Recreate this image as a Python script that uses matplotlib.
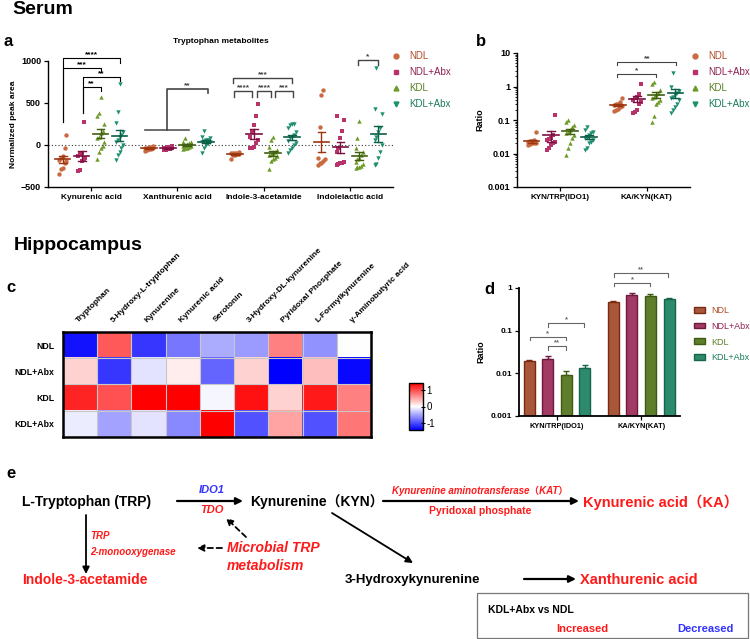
import numpy as np
import matplotlib
matplotlib.use('Agg')
import matplotlib.pyplot as plt
from matplotlib.lines import Line2D
from matplotlib.patches import Patch, Rectangle

plt.rcParams['font.family'] = ['Liberation Sans', 'Noto Sans CJK SC', 'DejaVu Sans']
plt.rcParams['axes.linewidth'] = 1.0

# ---- data ----
groups = ['NDL', 'NDL+Abx', 'KDL', 'KDL+Abx']
a_metabolites = ['Kynurenic acid', 'Xanthurenic acid', 'Indole-3-acetamide', 'Indolelactic acid']

# normalized peak area, one list per group (NDL, NDL+Abx, KDL, KDL+Abx)
kyna = [[120, -30, -130, -160, -175, -190, -215, -275, -290, -340],
        [275, -95, -110, -130, -150, -175, -195, -300, -305],
        [570, 380, 340, 250, 170, 140, 100, 80, 30, -10, -40, -80, -170],
        [730, 390, 260, 150, 120, 90, 60, 30, 0, -30, -80, -120, -175]]
xana = [[-10, -20, -30, -35, -40, -45, -50, -60, -70, -25],
        [-15, -25, -30, -35, -40, -45, -50, -55, -60, -20],
        [80, 40, 20, 0, -10, -20, -30, -40, -50, 10, -15, 30],
        [170, 100, 80, 60, 50, 40, 30, 20, 0, -30, -90, 60]]
i3a = [[-85, -90, -95, -100, -100, -105, -110, -115, -120, -170],
       [490, 350, 240, 150, 100, 60, 20, -20, -30, -40],
       [100, 60, -20, -60, -80, -100, -110, -120, -130, -150, -170, -190, -290],
       [250, 250, 240, 200, 150, 120, 100, 80, 50, 20, 0, -30, -60, -100]]
ila = [[660, 600, 220, -150, -170, -190, -210, -220, -240],
       [350, 300, 170, 80, -40, -80, -200, -210, -220, -230, -240],
       [290, 80, -40, -80, -120, -150, -170, -200, -230, -250, -260, -260, -270],
       [920, 430, 370, 200, 150, 100, 60, 0, -80, -150, -230, -240]]

b_ratios = ['KYN/TRP(IDO1)', 'KA/KYN(KAT)']
ido_ratio = [[0.045, 0.025, 0.023, 0.022, 0.021, 0.02, 0.019, 0.018, 0.024, 0.02],
             [0.14, 0.035, 0.03, 0.025, 0.022, 0.02, 0.018, 0.015, 0.013, 0.028],
             [0.1, 0.085, 0.07, 0.05, 0.045, 0.04, 0.035, 0.03, 0.02, 0.015, 0.009, 0.06],
             [0.06, 0.05, 0.04, 0.035, 0.03, 0.03, 0.025, 0.022, 0.02, 0.015, 0.013, 0.045]]
kat_ratio = [[0.45, 0.35, 0.3, 0.28, 0.25, 0.22, 0.2, 0.19, 0.3, 0.27],
             [1.15, 0.6, 0.5, 0.45, 0.4, 0.35, 0.3, 0.2, 0.17, 0.16],
             [1.4, 1.2, 0.8, 0.65, 0.55, 0.5, 0.45, 0.4, 0.35, 0.3, 0.13, 0.085],
             [2.5, 0.95, 0.75, 0.65, 0.55, 0.5, 0.45, 0.4, 0.3, 0.25, 0.2, 0.16]]

hm_rows = ['NDL', 'NDL+Abx', 'KDL', 'KDL+Abx']
hm_cols = ['Tryptophan', '5-Hydroxy-L-tryptophan', 'Kynurenine', 'Kynurenic acid', 'Serotonin',
           '3-Hydroxy-DL-kynurenine', 'Pyridoxal Phosphate', 'L-Formylkynurenine', 'γ-Aminobutyric acid']
hm_ndl = [-1.3, 0.9, -1.1, -0.75, -0.45, -0.55, 0.7, -0.6, 0.0]
hm_ndlabx = [0.25, -1.1, -0.15, 0.1, -0.85, 0.25, -1.4, 0.35, -1.35]
hm_kdl = [1.2, 0.95, 1.4, 1.4, -0.05, 1.3, 0.25, 1.25, 0.7]
hm_kdlabx = [-0.1, -0.5, -0.15, -0.65, 1.4, -0.95, 0.5, -0.95, 0.75]

d_ido_mean = [0.019, 0.022, 0.009, 0.013]
d_ido_err = [0.002, 0.004, 0.0025, 0.003]
d_kat_mean = [0.47, 0.68, 0.65, 0.56]
d_kat_err = [0.03, 0.1, 0.07, 0.02]

# ---- styles ----
pcol = ['#C96A40', '#B8336A', '#6E9A2A', '#1E9070']
lcol = ['#9A3510', '#7A1040', '#3F5F0F', '#0B5E47']
tcol = ['#B04A25', '#8E2050', '#5A8020', '#1A7A5C']
bface = ['#A9573A', '#A33A63', '#5E7E2C', '#2E8A6C']
bedge = ['#7A2A12', '#6E1A40', '#3C5A12', '#16654B']
mk = ['o', 's', '^', 'v']
off = [-0.33, -0.11, 0.11, 0.33]

fig = plt.figure(figsize=(7.5, 6.39), dpi=100)
W, H = 750.0, 639.0


def px_axes(l, t, r, b):
    return fig.add_axes([l / W, 1 - b / H, (r - l) / W, (b - t) / H])


def dotplot(ax, pos, vals, k, hw=0.09):
    vals = np.asarray(vals, dtype=float)
    order = np.argsort(vals)
    jit = np.zeros(len(vals))
    jit[order] = ((np.arange(len(vals)) % 5) - 2) * 0.022
    ax.scatter(pos + jit, vals, marker=mk[k], s=10, c=pcol[k], lw=0, zorder=3)
    m = vals.mean()
    se = vals.std(ddof=1) / np.sqrt(len(vals))
    ax.plot([pos - hw, pos + hw], [m, m], color=lcol[k], lw=1.2, zorder=4)
    ax.plot([pos, pos], [m - se, m + se], color=lcol[k], lw=1.0, zorder=4)
    for y in (m - se, m + se):
        ax.plot([pos - hw / 2, pos + hw / 2], [y, y], color=lcol[k], lw=1.0, zorder=4)


def bracket(ax, x1, x2, y, l1, l2, txt, fs=6, color='k', lw=0.8):
    ax.plot([x1, x1, x2, x2], [l1, y, y, l2], color=color, lw=lw, clip_on=False)
    ax.text((x1 + x2) / 2, y, txt, ha='center', va='bottom', fontsize=fs,
            fontweight='bold', color=color, clip_on=False)


def style_axes(ax):
    for s in ['top', 'right']:
        ax.spines[s].set_visible(False)
    ax.tick_params(length=3, width=0.9, pad=2)


# ---- panel a ----
axa = px_axes(48, 61, 393, 187)
for i, data in enumerate([kyna, xana, i3a, ila]):
    for k in range(4):
        dotplot(axa, i + off[k], data[k], k)
axa.axhline(0, color='#333333', ls=(0, (1, 2)), lw=0.8, zorder=1)
axa.set_xlim(-0.5, 3.5)
axa.set_ylim(-500, 1000)
axa.set_yticks([-500, 0, 500, 1000])
axa.set_xticks(range(4))
axa.set_xticklabels(a_metabolites, fontsize=6, fontweight='bold')
plt.setp(axa.get_yticklabels(), fontsize=6.5, fontweight='bold')
axa.set_ylabel('Normalized peak area', fontsize=6, fontweight='bold', labelpad=3)
axa.set_title('Tryptophan metabolites', fontsize=6, fontweight='bold', pad=13)
style_axes(axa)

bracket(axa, -0.33, 0.33, 1036, 274, 976, '****')
bracket(axa, -0.33, 0.11, 917, 274, 881, '***')
bracket(axa, -0.1, 0.33, 810, 381, 762, '**')
bracket(axa, -0.1, 0.11, 690, 381, 643, '**')
axa.plot([1 - 0.37, 1 + 0.13], [179, 179], color='#555555', lw=1.2, clip_on=False)
bracket(axa, 1 - 0.12, 1 + 0.35, 667, 179, 619, '**', color='#444444', lw=1.2)
bracket(axa, 2 - 0.35, 2 + 0.33, 798, 738, 738, '***', color='#444444', lw=1.0)
bracket(axa, 2 - 0.34, 2 - 0.13, 643, 571, 571, '****', color='#444444', lw=1.0)
bracket(axa, 2 - 0.08, 2 + 0.09, 643, 571, 571, '****', color='#444444', lw=1.0)
bracket(axa, 2 + 0.13, 2 + 0.34, 643, 571, 571, '***', color='#444444', lw=1.0)
bracket(axa, 3 + 0.09, 3 + 0.33, 1012, 952, 952, '*', color='#444444', lw=1.0)

hand = [Line2D([], [], marker=mk[k], ls='none', color=pcol[k], markersize=3.5) for k in range(4)]
axa.legend(hand, groups, loc='upper left', bbox_to_anchor=(391 / W, 1 - 51 / H),
           bbox_transform=fig.transFigure, frameon=False, fontsize=7, labelcolor=tcol,
           handlelength=1.0, handletextpad=0.9, labelspacing=0.62, borderpad=0, borderaxespad=0)

# ---- panel b ----
axb = px_axes(517, 53, 690, 187)
for i, data in enumerate([ido_ratio, kat_ratio]):
    for k in range(4):
        dotplot(axb, i + off[k], data[k], k)
axb.set_yscale('log')
axb.set_ylim(0.001, 10)
axb.set_xlim(-0.5, 1.5)
axb.set_yticks([0.001, 0.01, 0.1, 1, 10])
axb.set_yticklabels(['0.001', '0.01', '0.1', '1', '10'])
axb.set_xticks(range(2))
axb.set_xticklabels(b_ratios, fontsize=5.8, fontweight='bold')
plt.setp(axb.get_yticklabels(), fontsize=6.5, fontweight='bold')
axb.tick_params(which='minor', length=1.5, width=0.6)
axb.set_ylabel('Ratio', fontsize=6.5, fontweight='bold', labelpad=2)
style_axes(axb)
bracket(axb, 0.66, 1.11, 2.36, 1.9, 1.9, '*', color='#444444')
bracket(axb, 0.66, 1.34, 5.4, 4.4, 4.4, '**', color='#444444')
axb.legend(hand, groups, loc='upper left', bbox_to_anchor=(690 / W, 1 - 51 / H),
           bbox_transform=fig.transFigure, frameon=False, fontsize=7, labelcolor=tcol,
           handlelength=1.0, handletextpad=0.9, labelspacing=0.62, borderpad=0, borderaxespad=0)

# ---- panel c ----
axc = px_axes(63, 332, 371, 437)
hm = np.array([hm_ndl, hm_ndlabx, hm_kdl, hm_kdlabx])
im = axc.imshow(hm, cmap='bwr', vmin=-1.4, vmax=1.4, aspect='auto')
axc.set_xticks(range(len(hm_cols)))
axc.set_xticklabels(hm_cols, rotation=45, ha='left', rotation_mode='anchor',
                    fontsize=6, fontweight='bold')
axc.xaxis.tick_top()
axc.set_yticks(range(len(hm_rows)))
axc.set_yticklabels(hm_rows, fontsize=6.3, fontweight='bold')
axc.tick_params(length=0, pad=6)
axc.set_xticks(np.arange(-0.5, len(hm_cols), 1), minor=True)
axc.set_yticks(np.arange(-0.5, len(hm_rows), 1), minor=True)
axc.grid(which='minor', color='#c8c8c8', lw=0.8)
axc.tick_params(which='minor', length=0)
for s in axc.spines.values():
    s.set_linewidth(1.8)

cax = px_axes(409, 383, 423, 430)
cb = fig.colorbar(im, cax=cax, ticks=[-1, 0, 1])
cb.ax.set_yticklabels(['-1', '0', '1'], fontsize=7)
cb.ax.tick_params(length=3, width=0.8, direction='inout', pad=1)
cb.outline.set_linewidth(1.0)

# ---- panel d ----
axd = px_axes(519, 288, 680, 416)
bw = 0.13
for k in range(4):
    xs = np.array([0, 1]) + off[k]
    ys = [d_ido_mean[k], d_kat_mean[k]]
    es = [d_ido_err[k], d_kat_err[k]]
    axd.bar(xs, ys, width=bw, color=bface[k], edgecolor=bedge[k], lw=1.0, zorder=2)
    axd.errorbar(xs, ys, yerr=[[0, 0], es], fmt='none', ecolor=bedge[k], elinewidth=1.0,
                 capsize=2, capthick=1.0, zorder=1)
axd.set_yscale('log')
axd.set_ylim(0.001, 1)
axd.set_xlim(-0.45, 1.46)
axd.set_yticks([0.001, 0.01, 0.1, 1])
axd.set_yticklabels(['0.001', '0.01', '0.1', '1'])
axd.minorticks_off()
axd.set_xticks(range(2))
axd.set_xticklabels(b_ratios, fontsize=5.3, fontweight='bold')
plt.setp(axd.get_yticklabels(), fontsize=6, fontweight='bold')
axd.set_ylabel('Ratio', fontsize=6.5, fontweight='bold', labelpad=4)
style_axes(axd)
axd.spines['left'].set_linewidth(1.3)
axd.spines['bottom'].set_linewidth(1.3)
gc = '#666666'
bracket(axd, -0.32, 0.105, 0.071, 0.06, 0.06, '*', fs=5.5, color=gc)
bracket(axd, -0.105, 0.105, 0.044, 0.036, 0.036, '**', fs=5.5, color=gc)
bracket(axd, -0.105, 0.32, 0.15, 0.125, 0.125, '*', fs=5.5, color=gc)
bracket(axd, 1 - 0.32, 1 + 0.105, 1.3, 1.1, 1.1, '*', fs=5.5, color=gc)
bracket(axd, 1 - 0.32, 1 + 0.32, 2.2, 1.85, 1.85, '**', fs=5.5, color=gc)
phand = [Patch(facecolor=bface[k], edgecolor=bedge[k], lw=1.0) for k in range(4)]
axd.legend(phand, groups, loc='upper left', bbox_to_anchor=(694 / W, 1 - 306 / H),
           bbox_transform=fig.transFigure, frameon=False, fontsize=6.5, labelcolor=tcol,
           handlelength=1.2, handleheight=0.6, handletextpad=0.7, labelspacing=0.75,
           borderpad=0, borderaxespad=0)

# ---- overlay: headings and pathway (panel e) ----
ov = fig.add_axes([0, 0, 1, 1])
ov.set_xlim(0, W)
ov.set_ylim(H, 0)
ov.axis('off')
ov.patch.set_alpha(0)

ov.text(12, 9, 'Serum', fontsize=14, fontweight='bold', va='center')
ov.text(14, 246, 'Hippocampus', fontsize=14, fontweight='bold', va='center')
for lab, x, y in [('a', 4, 41), ('b', 476, 41), ('c', 6, 288), ('d', 484, 289), ('e', 6, 474)]:
    ov.text(x, y, lab, fontsize=12, fontweight='bold', va='center')

red = '#FF1A1A'
blue = '#3333FF'
arr = dict(arrowstyle='-|>', lw=1.6, color='k', mutation_scale=10, shrinkA=0, shrinkB=0)
ov.text(22, 502, 'L-Tryptophan (TRP)', fontsize=10, fontweight='bold', va='center')
ov.annotate('', xy=(243, 501), xytext=(177, 501), arrowprops=arr)
ov.text(212, 490, 'IDO1', fontsize=8, fontweight='bold', style='italic', color=blue,
        ha='center', va='center')
ov.text(212, 510, 'TDO', fontsize=8, fontweight='bold', style='italic', color=red,
        ha='center', va='center')
ov.text(250, 502, 'Kynurenine（KYN）', fontsize=10, fontweight='bold', va='center')
ov.annotate('', xy=(579, 501), xytext=(383, 501), arrowprops=arr)
ov.text(480, 491, 'Kynurenine aminotransferase（KAT）', fontsize=7, fontweight='bold',
        style='italic', color=red, ha='center', va='center')
ov.text(480, 511, 'Pyridoxal phosphate', fontsize=7.5, fontweight='bold', color=red,
        ha='center', va='center')
ov.text(583, 502, 'Kynurenic acid（KA）', fontsize=10.5, fontweight='bold', color=red, va='center')

ov.annotate('', xy=(86, 574), xytext=(86, 515), arrowprops=dict(arr, lw=1.3))
ov.text(90, 536, 'TRP', fontsize=7, fontweight='bold', style='italic', color=red, va='center')
ov.text(90, 552, '2-monooxygenase', fontsize=7, fontweight='bold', style='italic', color=red,
        va='center')
ov.text(22, 580, 'Indole-3-acetamide', fontsize=10, fontweight='bold', color=red, va='center')
darr = dict(arr, lw=1.3, ls=(0, (3, 2)))
ov.annotate('', xy=(197, 548), xytext=(222, 548), arrowprops=darr)
ov.annotate('', xy=(226, 518), xytext=(246, 537), arrowprops=darr)
ov.text(227, 548, 'Microbial TRP', fontsize=10, fontweight='bold', style='italic', color=red,
        va='center')
ov.text(227, 566, 'metabolism', fontsize=10, fontweight='bold', style='italic', color=red,
        va='center')

ov.annotate('', xy=(413, 563), xytext=(332, 513), arrowprops=dict(arr, lw=1.3))
ov.text(345, 580, '3-Hydroxykynurenine', fontsize=9.5, fontweight='bold', va='center')
ov.annotate('', xy=(576, 579), xytext=(524, 579), arrowprops=arr)
ov.text(580, 580, 'Xanthurenic acid', fontsize=10.5, fontweight='bold', color=red, va='center')

ov.add_patch(Rectangle((477, 593), 271, 45, fill=False, ec='#777777', lw=0.9, clip_on=False))
ov.text(488, 610, 'KDL+Abx vs NDL', fontsize=7.5, fontweight='bold', va='center')
ov.text(582, 629, 'Increased', fontsize=8, fontweight='bold', color=red, ha='center', va='center')
ov.text(705, 629, 'Decreased', fontsize=8, fontweight='bold', color=blue, ha='center', va='center')

fig.savefig('out.png', dpi=100)
